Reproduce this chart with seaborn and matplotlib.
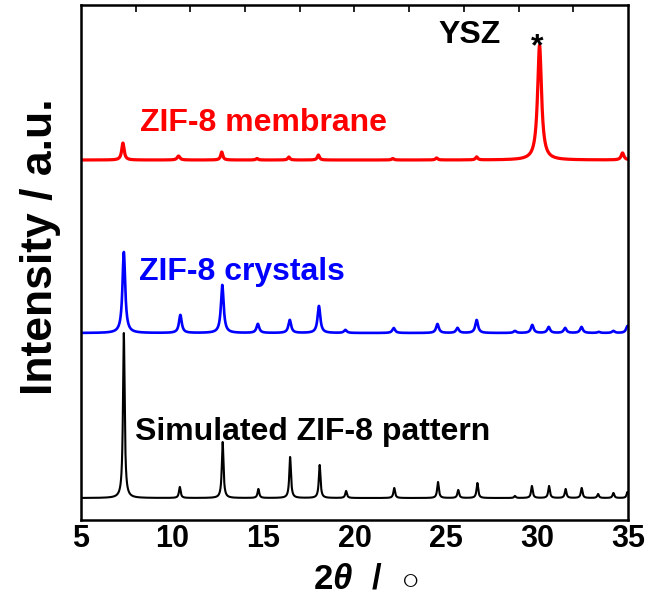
import numpy as np
import pandas as pd
import matplotlib
matplotlib.use('Agg')
import matplotlib.pyplot as plt
import seaborn as sns

# peak positions (2theta / deg) and heights (a.u.)
sim_pos = [7.35, 10.42, 12.77, 14.73, 16.47, 18.09, 19.54, 22.18, 24.58, 25.69,
           26.74, 28.8, 29.73, 30.67, 31.58, 32.46, 33.36, 34.2, 34.97]
sim_int = [165, 11, 56, 9, 41, 33, 7, 10, 16, 8, 15, 2, 12, 12, 9, 10, 4, 5, 6]

cry_pos = [7.35, 10.45, 12.75, 14.7, 16.45, 18.05, 19.5, 22.15, 24.55, 25.65,
           26.7, 28.8, 29.75, 30.65, 31.55, 32.45, 33.4, 34.2, 34.97]
cry_int = [81, 18, 48, 9, 13, 27, 3, 5, 9, 5, 13, 2, 8, 6, 5, 6, 1, 2, 7]

mem_pos = [7.3, 10.35, 12.72, 14.65, 16.4, 18.02, 22.1, 24.5, 26.7, 30.15, 34.7]
mem_int = [17, 4, 8, 1.5, 3, 5, 1.5, 2, 3, 115, 7]
mem_wid = [0.08, 0.09, 0.07, 0.07, 0.07, 0.07, 0.07, 0.07, 0.07, 0.13, 0.09]

offsets = [22, 187, 360]  # vertical stacking of the three patterns


def pattern(tt, pos, inten, wid):
    y = np.zeros_like(tt)
    for c, h, w in zip(pos, inten, wid):
        y += h * w**2 / ((tt - c)**2 + w**2)
    return y


tt = np.linspace(5, 35, 6001)
sim = pattern(tt, sim_pos, sim_int, [0.055] * len(sim_pos)) + offsets[0]
cry = pattern(tt, cry_pos, cry_int, [0.09] * len(cry_pos)) + offsets[1]
mem = pattern(tt, mem_pos, mem_int, mem_wid) + offsets[2]

df = pd.DataFrame({'two_theta': tt, 'sim': sim, 'cry': cry, 'mem': mem})

sns.set_style('white')
plt.rcParams['font.family'] = ['Liberation Sans', 'DejaVu Sans']
plt.rcParams['font.weight'] = 'bold'
plt.rcParams['text.color'] = 'black'
plt.rcParams['axes.labelcolor'] = 'black'
plt.rcParams['xtick.color'] = 'black'
plt.rcParams['mathtext.fontset'] = 'custom'
plt.rcParams['mathtext.it'] = 'Liberation Sans:italic'
plt.rcParams['mathtext.rm'] = 'Liberation Sans:bold'
plt.rcParams['mathtext.bf'] = 'Liberation Sans:bold'

fig = plt.figure(figsize=(6.6, 5.95), dpi=100)
ax = fig.add_axes([0.1227, 0.126, 0.8288, 0.8656])

sns.lineplot(data=df, x='two_theta', y='sim', color='black', lw=1.5,
             estimator=None, sort=False, ax=ax)
sns.lineplot(data=df, x='two_theta', y='cry', color='#0000ff', lw=1.9,
             estimator=None, sort=False, ax=ax)
sns.lineplot(data=df, x='two_theta', y='mem', color='#ff0000', lw=2.3,
             estimator=None, sort=False, ax=ax)

ax.set_xlim(5, 35)
ax.set_ylim(0, 515)
ax.set_xticks(range(5, 36, 5))
ax.set_yticks([])
ax.tick_params(axis='x', direction='in', length=9, width=1.6, labelsize=22, pad=3,
               top=False, color='black')
for lab in ax.get_xticklabels():
    lab.set_fontweight('bold')
for sp in ax.spines.values():
    sp.set_linewidth(1.8)
    sp.set_color('black')

top = ax.secondary_xaxis('top')
top.set_xticks(range(8, 33, 3))
top.tick_params(direction='in', length=5, width=1.2, color='black', labeltop=False)
top.spines['top'].set_visible(False)

ax.set_xlabel(r'2$\mathit{\theta}$  / $\,\circ$', fontsize=25, fontweight='bold')
ax.xaxis.set_label_coords((366 - 81) / 547, -(588 - 520) / 515)
ax.xaxis.label.set_va('baseline')
ax.set_ylabel('Intensity / a.u.', fontsize=32, fontweight='bold')
ax.yaxis.set_label_coords((41 - 81) / 547, (520 - 247) / 515)
ax.yaxis.label.set_va('center')

ax.text(8.25, 389, 'ZIF-8 membrane', color='#ff0000', fontsize=23,
        fontweight='bold', va='baseline')
ax.text(8.2, 240, 'ZIF-8 crystals', color='#0000ff', fontsize=23,
        fontweight='bold', va='baseline')
ax.text(7.95, 80, 'Simulated ZIF-8 pattern', color='black', fontsize=23,
        fontweight='bold', va='baseline')
ax.text(26.3, 477, 'YSZ', color='black', fontsize=23, fontweight='bold',
        ha='center', va='baseline')
ax.text(30.01, 465, '*', color='black', fontsize=23, fontweight='bold',
        ha='center', va='baseline')

fig.savefig('out.png', dpi=100)
